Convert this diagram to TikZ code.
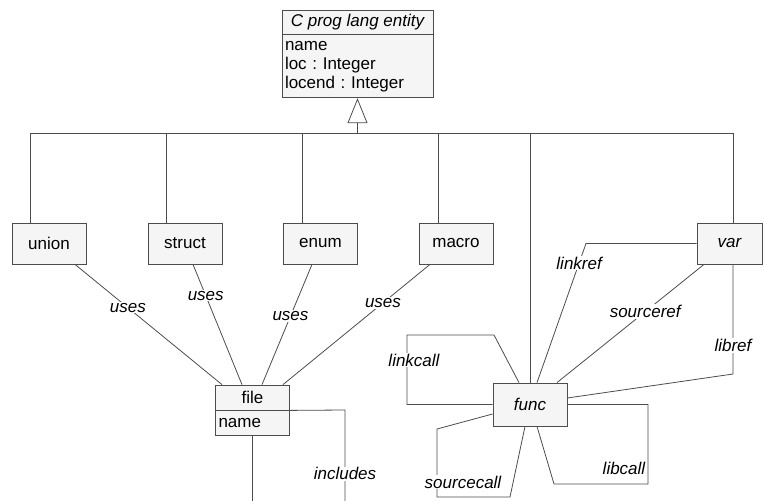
\documentclass[tikz,border=0pt]{standalone}
\usepackage{fontspec}
\setmainfont{Liberation Sans}
\frenchspacing
\usetikzlibrary{arrows.meta, positioning}
\tikzset{
    cls/.style={
        draw=black!70,
        fill=black!4,
        line width=0.8pt,
        minimum width=74pt,
        minimum height=41pt,
        inner sep=0pt,
        font=\fontsize{17}{19}\selectfont
    },
    rel/.style={
        fill=white,
        inner sep=1pt,
        font=\fontsize{17}{19}\selectfont\itshape
    },
    link/.style={
        draw=black!70,
        line width=0.8pt
    }
}

\begin{document}
\begin{tikzpicture}[x=1pt,y=-1pt]

\clip (0,0) rectangle (764,501);

\node[cls, minimum width=151pt, minimum height=24pt, font=\fontsize{17}{19}\selectfont\itshape] (enttitle) at (357.5,22) {C prog lang entity};
\node[cls, minimum width=151pt, minimum height=63pt, text width=145pt, inner xsep=3pt, align=left, below=0pt of enttitle] (entattr) {name\\loc : Integer\\locend : Integer};

\node[cls] (union) at (49,243.5) {union};
\node[cls] (struct) at (185,243.5) {struct};
\node[cls] (enum) at (320.5,243.5) {enum};
\node[cls] (macro) at (456,243.5) {macro};
\node[cls, minimum width=65pt, font=\fontsize{17}{19}\selectfont\itshape] (var) at (729.5,243.5) {var};
\node[cls, minimum height=43pt, font=\fontsize{17}{19}\selectfont\itshape] (func) at (530,404.5) {func};

\node[cls, minimum height=25pt] (filetitle) at (252.5,397.5) {file};
\node[cls, minimum height=25pt, text width=68pt, inner xsep=3pt, align=left, below=0pt of filetitle] (fileattr) {name};

% bends and loose ends
\coordinate (bus) at (357.5,133);
\coordinate (lrbend) at (586,243.5);
\coordinate (lbbend) at (733,374);
\coordinate (lc1) at (407,404.5);
\coordinate (lc2) at (407,335);
\coordinate (lc3) at (494,335);
\coordinate (sc1) at (437,429);
\coordinate (sc2) at (437,497);
\coordinate (sc3) at (510,497);
\coordinate (bc1) at (648,404.5);
\coordinate (bc2) at (648,484);
\coordinate (bc3) at (554,484);
\coordinate (inbend) at (345,410);
\coordinate (inend) at (345,520);
\coordinate (fileend) at (252.5,520);

\draw[link, -{Triangle[open, length=25pt, width=20pt]}] (bus) -- (entattr.south);
\draw[link] ([xshift=-19pt]union.north) |- (bus);
\draw[link] ([xshift=-19pt]struct.north) |- (bus);
\draw[link] ([xshift=-18.5pt]enum.north) |- (bus);
\draw[link] ([xshift=-18pt]macro.north) |- (bus);
\draw[link] (func.north) |- (bus);
\draw[link] ([xshift=3.5pt]var.north) |- (bus);

\draw[link] ([xshift=26pt]union.south) -- node[rel, pos=0.36] {uses} ([xshift=-30.5pt]filetitle.north);
\draw[link] ([xshift=8pt]struct.south) -- node[rel, pos=0.26] {uses} ([xshift=-10.5pt]filetitle.north);
\draw[link] ([xshift=-8.5pt]enum.south) -- node[rel, pos=0.43] {uses} ([xshift=9.5pt]filetitle.north);
\draw[link] ([xshift=-26pt]macro.south) -- node[rel, pos=0.32] {uses} ([xshift=30.5pt]filetitle.north);

\draw[link] (var.west) -- (lrbend) -- node[rel, pos=0.14] {linkref} ([xshift=7pt]func.north);
\draw[link] ([xshift=-25.5pt]var.south) -- node[rel, pos=0.4] {sourceref} ([xshift=27pt]func.north);
\draw[link] ([xshift=3.5pt]var.south) -- node[rel, pos=0.74] {libref} (lbbend) -- ([yshift=6.5pt]func.east);

\draw[link] (func.west) -- (lc1) -- node[rel, pos=0.64, xshift=7pt] {linkcall} (lc2) -- (lc3) -- ([xshift=-11pt]func.north);
\draw[link] ([yshift=-9.5pt]func.west) -- (sc1) -- node[rel, pos=0.78, xshift=26pt] {sourcecall} (sc2) -- (sc3) -- ([xshift=-5pt]func.south);
\draw[link] (func.east) -- (bc1) -- node[rel, pos=0.8, xshift=-24pt] {libcall} (bc2) -- (bc3) -- ([xshift=7pt]func.south);

\draw[link] (fileattr.north east) -- (inbend) -- node[rel, pos=0.58] {includes} (inend);
\draw[link] (fileattr.south) -- (fileend);

\end{tikzpicture}
\end{document}
